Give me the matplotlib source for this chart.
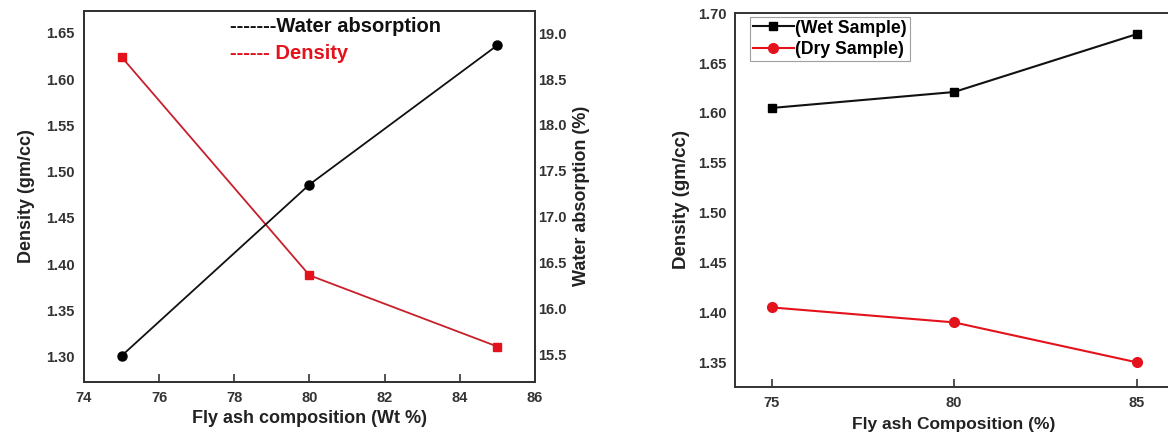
import matplotlib.pyplot as plt

plt.rcParams['font.family'] = ['Liberation Sans', 'DejaVu Sans']
plt.rcParams['font.weight'] = 'bold'
plt.rcParams['axes.labelweight'] = 'bold'

# left panel data
fly_ash = [75, 80, 85]
density = [1.624, 1.388, 1.311]
water_abs = [15.48, 17.35, 18.87]
left_xticks = [74, 76, 78, 80, 82, 84, 86]
density_ticks = [1.30, 1.35, 1.40, 1.45, 1.50, 1.55, 1.60, 1.65]
water_ticks = [15.5, 16.0, 16.5, 17.0, 17.5, 18.0, 18.5, 19.0]

# right panel data
wet_sample = [1.605, 1.621, 1.679]
dry_sample = [1.405, 1.390, 1.350]
right_xticks = [75, 80, 85]
right_yticks = [1.35, 1.40, 1.45, 1.50, 1.55, 1.60, 1.65, 1.70]

spine_col = '#333333'
red = '#e3121b'
red_line = '#c8202a'

fig = plt.figure(figsize=(11.68, 4.43), dpi=100)

# ---- left chart ----
ax1 = fig.add_axes([0.0719, 0.1384, 0.3861, 0.8374])
ax2 = ax1.twinx()
ax1.plot(fly_ash, density, color=red_line, lw=1.3, marker='s', ms=6,
         mfc=red, mec=red, zorder=3)
ax2.plot(fly_ash, water_abs, color='#111111', lw=1.3, marker='o', ms=6.5,
         mfc='black', mec='black', zorder=3)
ax1.set_xlim(74, 86)
ax1.set_ylim(1.273, 1.674)
ax2.set_ylim(15.198, 19.247)
ax1.set_xticks(left_xticks)
ax1.set_yticks(density_ticks)
ax1.set_yticklabels([f'{v:.2f}' for v in density_ticks])
ax2.set_yticks(water_ticks)
ax2.set_yticklabels([f'{v:.1f}' for v in water_ticks])
ax1.tick_params(axis='x', direction='in', length=6, width=1.2, labelsize=10.5,
                color=spine_col, labelcolor='#333333', pad=7)
ax1.tick_params(axis='y', length=0, labelsize=10.5, labelcolor='#333333', pad=7)
ax2.tick_params(axis='y', length=0, labelsize=10.5, labelcolor='#333333', pad=2)
ax1.set_xlabel('Fly ash composition (Wt %)', fontsize=13, color='#222222', labelpad=3)
ax1.set_ylabel('Density (gm/cc)', fontsize=13, color='#222222', labelpad=8)
ax2.set_ylabel('Water absorption (%)', fontsize=13, color='#222222', labelpad=5)
for ax in (ax1, ax2):
    for s in ax.spines.values():
        s.set_color(spine_col)
        s.set_linewidth(1.4)

ax1.text(0.324, 0.958, '-------Water absorption', transform=ax1.transAxes,
         fontsize=14.5, color='#111111', ha='left', va='center')
ax1.text(0.324, 0.886, '------ Density', transform=ax1.transAxes,
         fontsize=14.5, color=red, ha='left', va='center')

# ---- right chart ----
ax3 = fig.add_axes([0.6293, 0.1271, 0.375, 0.843])
ax3.plot(right_xticks, wet_sample, color='#111111', lw=1.5, marker='s', ms=6,
         mfc='black', mec='black', label='(Wet Sample)', zorder=3)
ax3.plot(right_xticks, dry_sample, color=red, lw=1.5, marker='o', ms=7,
         mfc=red, mec=red, label='(Dry Sample)', zorder=3)
ax3.set_xlim(74, 86)
ax3.set_ylim(1.3255, 1.70)
ax3.set_xticks(right_xticks)
ax3.set_yticks(right_yticks)
ax3.set_yticklabels([f'{v:.2f}' for v in right_yticks])
ax3.tick_params(axis='x', direction='in', length=6, width=1.2, labelsize=10.5,
                color=spine_col, labelcolor='#333333', pad=7)
ax3.tick_params(axis='y', length=0, labelsize=10.5, labelcolor='#333333', pad=6)
ax3.set_xlabel('Fly ash Composition (%)', fontsize=12.5, color='#222222', labelpad=5)
ax3.set_ylabel('Density (gm/cc)', fontsize=13.5, color='#222222', labelpad=6)
for s in ax3.spines.values():
    s.set_color(spine_col)
    s.set_linewidth(1.4)
leg = ax3.legend(loc='upper left', bbox_to_anchor=(0.035, 0.99), fontsize=12.7,
                 frameon=True, fancybox=False, borderpad=0.15, labelspacing=0.25,
                 handlelength=2.3, handletextpad=0.1, borderaxespad=0.0)
leg.get_frame().set_edgecolor('#888888')
leg.get_frame().set_linewidth(0.8)

fig.savefig('out.png', dpi=100)
